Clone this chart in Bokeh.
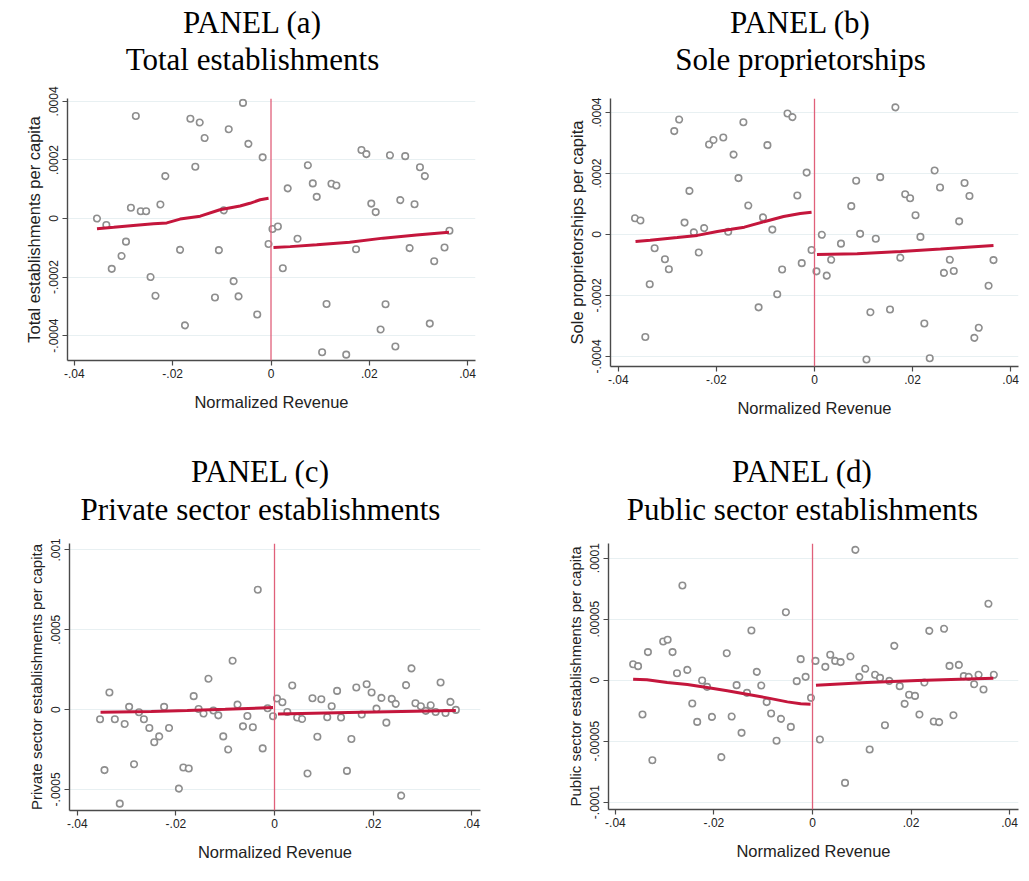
from bokeh.plotting import figure
from bokeh.models import Range1d, FixedTicker, Span
from bokeh.layouts import column, row
from bokeh.core.properties import value
from bokeh.embed import file_html
from bokeh.resources import INLINE
import numpy as np

X_TICKS = [-0.04, -0.02, 0, 0.02, 0.04]
X_LABELS = ["-.04", "-.02", "0", ".02", ".04"]
X_TITLE = "Normalized Revenue"

# ---------------- Panel (a): Total establishments (y in 1e-4) ----------------
a_title = ["PANEL (a)", "Total establishments"]
a_ytitle = "Total establishments per capita"
a_x = [-0.0354, -0.0335, -0.0324, -0.0304, -0.0295, -0.0285, -0.0275, -0.0265, -0.0254, -0.0245,
       -0.0235, -0.0225, -0.0215, -0.0185, -0.0175, -0.0164, -0.0154, -0.0145, -0.0135, -0.0114,
       -0.0106, -0.0096, -0.0086, -0.0076, -0.0066, -0.0057, -0.0046, -0.0028, -0.0017, -0.0005,
       0.0003, 0.0014, 0.0024, 0.0034, 0.0054, 0.0075, 0.0085, 0.0093, 0.0104, 0.0113,
       0.0123, 0.0133, 0.0153, 0.0173, 0.0184, 0.0194, 0.0204, 0.0213, 0.0223, 0.0233,
       0.0242, 0.0253, 0.0263, 0.0273, 0.0282, 0.0292, 0.0303, 0.0313, 0.0323, 0.0332,
       0.0353, 0.0363]
a_y = [0.0, -0.22, -1.72, -1.28, -0.79, 0.37, 3.50, 0.25, 0.25, -2.0,
       -2.64, 0.48, 1.45, -1.07, -3.65, 3.41, 1.77, 3.28, 2.75, -2.70,
       -1.08, 0.28, 3.05, -2.14, -2.66, 3.95, 2.55, -3.28, 2.09, -0.87,
       -0.36, -0.27, -1.70, 1.03, -0.69, 1.82, 1.20, 0.74, -4.57, -2.92,
       1.19, 1.13, -4.65, -1.05, 2.34, 2.20, 0.51, 0.22, -3.79, -2.93,
       2.16, -4.37, 0.63, 2.13, -1.01, 0.49, 1.75, 1.45, -3.59, -1.46,
       -0.99, -0.42]
a_fitL_x = [-0.0354, -0.032, -0.028, -0.0239, -0.0212, -0.0185, -0.0144, -0.0104, -0.0063, -0.0043, -0.0022, -0.0005]
a_fitL_y = [-0.35, -0.30, -0.24, -0.18, -0.15, -0.02, 0.08, 0.30, 0.43, 0.52, 0.64, 0.69]
a_fitR_x = [0.0005, 0.0039, 0.0093, 0.016, 0.0228, 0.0296, 0.0362]
a_fitR_y = [-0.99, -0.96, -0.90, -0.81, -0.67, -0.56, -0.47]
a_yticks = [-0.0004, -0.0002, 0, 0.0002, 0.0004]
a_ylabels = ["-.0004", "-.0002", "0", ".0002", ".0004"]

# ---------------- Panel (b): Sole proprietorships (y in 1e-4) ----------------
b_title = ["PANEL (b)", "Sole proprietorships"]
b_ytitle = "Sole proprietorships per capita"
b_x = [-0.0366, -0.0355, -0.0345, -0.0336, -0.0326, -0.0305, -0.0297, -0.0286, -0.0276, -0.0265,
       -0.0255, -0.0246, -0.0236, -0.0225, -0.0215, -0.0206, -0.0186, -0.0176, -0.0165, -0.0155,
       -0.0145, -0.0135, -0.0114, -0.0105, -0.0096, -0.0086, -0.0076, -0.0066, -0.0055, -0.0045,
       -0.0035, -0.0026, -0.0016, -0.0006,
       0.0004, 0.0015, 0.0025, 0.0034, 0.0054, 0.0075, 0.0085, 0.0093, 0.0106, 0.0114,
       0.0125, 0.0134, 0.0154, 0.0165, 0.0175, 0.0185, 0.0195, 0.0206, 0.0216, 0.0224,
       0.0235, 0.0245, 0.0256, 0.0264, 0.0276, 0.0284, 0.0295, 0.0306, 0.0316, 0.0326,
       0.0335, 0.0355, 0.0365]
b_y = [0.53, 0.46, -3.36, -1.63, -0.45, -0.81, -1.14, 3.39, 3.77, 0.39,
       1.43, 0.07, -0.59, 0.21, 2.95, 3.10, 3.18, 0.09, 2.62, 1.85,
       3.68, 0.95, -2.39, 0.56, 2.93, 0.16, -1.96, -1.15, 3.97, 3.85,
       1.28, -0.94, 2.03, -0.51,
       -1.21, -0.01, -1.35, -0.83, -0.30, 0.93, 1.76, 0.02, -4.10, -2.55,
       -0.14, 1.88, -2.46, 4.17, -0.76, 1.32, 1.19, 0.63, -0.08, -2.92,
       -4.06, 2.10, 1.54, -1.26, -0.83, -1.20, 0.43, 1.69, 1.26, -3.39,
       -3.06, -1.68, -0.84]
b_fitL_x = [-0.0365, -0.0335, -0.028, -0.0239, -0.0198, -0.017, -0.0143, -0.0103, -0.0063, -0.0029, -0.0006]
b_fitL_y = [-0.23, -0.19, -0.10, -0.03, 0.10, 0.17, 0.24, 0.42, 0.59, 0.69, 0.73]
b_fitR_x = [0.0005, 0.0087, 0.0176, 0.0257, 0.0365]
b_fitR_y = [-0.66, -0.63, -0.56, -0.48, -0.36]
b_yticks = [-0.0004, -0.0002, 0, 0.0002, 0.0004]
b_ylabels = ["-.0004", "-.0002", "0", ".0002", ".0004"]

# ---------------- Panel (c): Private sector (y in 1e-4) ----------------
c_title = ["PANEL (c)", "Private sector establishments"]
c_ytitle = "Private sector establishments per capita"
c_x = [-0.0354, -0.0345, -0.0335, -0.0324, -0.0314, -0.0304, -0.0295, -0.0285, -0.0275, -0.0265,
       -0.0254, -0.0244, -0.0234, -0.0224, -0.0214, -0.0194, -0.0185, -0.0174, -0.0164, -0.0154,
       -0.0144, -0.0134, -0.0124, -0.0114, -0.0104, -0.0094, -0.0085, -0.0075, -0.0064, -0.0055,
       -0.0044, -0.0034, -0.0024, -0.0014, -0.0003,
       0.0005, 0.0016, 0.0026, 0.0036, 0.0046, 0.0056, 0.0067, 0.0077, 0.0087, 0.0095,
       0.0107, 0.0116, 0.0127, 0.0135, 0.0147, 0.0156, 0.0166, 0.0177, 0.0187, 0.0197,
       0.0207, 0.0217, 0.0227, 0.0238, 0.0246, 0.0257, 0.0267, 0.0278, 0.0286, 0.0297,
       0.0307, 0.0317, 0.0327, 0.0337, 0.0347, 0.0357, 0.0368]
c_y = [-0.61, -3.79, 1.07, -0.61, -5.89, -0.90, 0.17, -3.42, -0.17, -0.61,
       -1.15, -2.05, -1.68, 0.17, -1.15, -4.95, -3.63, -3.69, 0.84, 0.04,
       -0.25, 1.93, -0.06, -0.36, -1.68, -2.50, 3.06, 0.31, -1.05, -0.40,
       -1.11, 7.50, -2.43, 0.08, -0.42,
       0.69, 0.46, -0.15, 1.51, -0.50, -0.59, -4.00, 0.71, -1.70, 0.65,
       -0.48, 0.21, 1.17, -0.50, -3.84, -1.84, 1.38, -0.31, 1.59, 1.07,
       0.06, 0.73, -0.82, 0.67, 0.36, -5.39, 1.53, 2.58, 0.40, 0.21,
       -0.08, 0.27, -0.15, 1.70, -0.21, 0.48, -0.02]
c_fitL_x = [-0.0353, -0.025, -0.0177, -0.01, -0.0003]
c_fitL_y = [-0.17, -0.12, -0.06, 0.02, 0.13]
c_fitR_x = [0.0007, 0.0175, 0.0368]
c_fitR_y = [-0.27, -0.17, -0.06]
c_yticks = [-0.0005, 0, 0.0005, 0.001]
c_ylabels = ["-.0005", "0", ".0005", ".001"]

# ---------------- Panel (d): Public sector (y in 1e-5) ----------------
d_title = ["PANEL (d)", "Public sector establishments"]
d_ytitle = "Public sector establishments per capita"
d_x = [-0.0364, -0.0354, -0.0345, -0.0334, -0.0325, -0.0303, -0.0294, -0.0284, -0.0275, -0.0264,
       -0.0254, -0.0244, -0.0234, -0.0224, -0.0214, -0.0204, -0.0185, -0.0174, -0.0164, -0.0154,
       -0.0144, -0.0133, -0.0124, -0.0113, -0.0104, -0.0093, -0.0084, -0.0073, -0.0064, -0.0054,
       -0.0044, -0.0032, -0.0024, -0.0014, -0.0003,
       0.0006, 0.0015, 0.0026, 0.0036, 0.0046, 0.0057, 0.0066, 0.0077, 0.0087, 0.0095,
       0.0107, 0.0116, 0.0127, 0.0137, 0.0147, 0.0156, 0.0166, 0.0177, 0.0187, 0.0196,
       0.0208, 0.0217, 0.0227, 0.0237, 0.0246, 0.0257, 0.0267, 0.0278, 0.0286, 0.0297,
       0.0307, 0.0317, 0.0328, 0.0337, 0.0347, 0.0357, 0.0368]
d_y = [1.31, 1.15, -2.81, 2.30, -6.56, 3.17, 3.31, 2.30, 0.57, 7.76,
       0.84, -1.91, -3.42, -0.03, -0.55, -3.01, -6.31, 2.21, -2.98, -0.41,
       -4.32, -1.04, 4.07, 0.68, -0.44, -1.80, -2.73, -4.97, -3.17, 5.57,
       -3.83, -0.08, 1.72, 0.27, -1.45,
       1.58, -4.86, 1.09, 2.08, 1.58, 1.48, -8.42, 1.94, 10.68, 0.27,
       0.93, -5.68, 0.44, 0.19, -3.69, -0.06, 2.81, -0.49, -1.94, -1.20,
       -1.29, -2.81, -0.19, 4.04, -3.39, -3.44, 4.21, 1.17, -2.87, 1.25,
       0.33, 0.27, -0.33, 0.44, -0.77, 6.26, 0.44]
d_fitL_x = [-0.0364, -0.0336, -0.0295, -0.0254, -0.0214, -0.0173, -0.0133, -0.0092, -0.0051, -0.0024, -0.0004]
d_fitL_y = [0.08, 0.03, -0.19, -0.36, -0.60, -0.87, -1.15, -1.45, -1.78, -1.94, -1.97]
d_fitR_x = [0.0007, 0.0111, 0.0213, 0.0367]
d_fitR_y = [-0.41, -0.19, -0.03, 0.16]
d_yticks = [-0.0001, -0.00005, 0, 0.00005, 0.0001]
d_ylabels = ["-.0001", "-.00005", "0", ".00005", ".0001"]

MARKER_COLOR = "#8e8e8e"
FIT_COLOR = "#c4163c"
XLINE_COLOR = "#e0607a"
GRID_COLOR = "#e8f0f2"
AXIS_COLOR = "#4a4a4a"
TEXT_COLOR = "#222222"

PAGE_W = 1021
STRIP1_H = 80  # height of the title strip above row 1 (px)
STRIP2_H = 88  # height of the title strip above row 2 (px)


def title_strip(h, left_lines, right_lines, centers, ys):
    """Full-width strip holding two panels' two-line serif titles; ranges are in pixels."""
    t = figure(output_backend="svg", toolbar_location=None, title=None,
               width=PAGE_W, height=h, min_border=0,
               x_range=Range1d(0, PAGE_W), y_range=Range1d(h, 0),
               x_axis_location=None, y_axis_location=None)
    t.outline_line_color = None
    t.xgrid.visible = False
    t.ygrid.visible = False
    xs = [centers[0], centers[0], centers[1], centers[1]]
    t.text(x=xs, y=ys + ys, text=left_lines + right_lines,
           text_align="center", text_baseline="middle",
           text_font=value("Liberation Serif"), text_font_size="31px", text_color="black")
    return t


def make_panel(ylab, x, y, scale, fLx, fLy, fRx, fRy, yticks, ylabels,
               xr, yr, lb, fw, rb, tb, fh, bb, ylab_size):
    p = figure(output_backend="svg", toolbar_location=None, title=None,
               frame_width=fw, frame_height=fh,
               min_border_left=lb, min_border_right=rb,
               min_border_top=tb, min_border_bottom=bb,
               x_range=Range1d(*xr), y_range=Range1d(*yr))
    p.outline_line_color = None
    p.background_fill_color = "white"
    p.border_fill_color = "white"

    for ax in (p.xaxis[0], p.yaxis[0]):
        ax.axis_line_color = AXIS_COLOR
        ax.axis_line_width = 1.4
        ax.major_tick_line_color = AXIS_COLOR
        ax.major_tick_line_width = 1.2
        ax.major_tick_out = 5
        ax.major_tick_in = 0
        ax.minor_tick_line_color = None
        ax.major_label_text_font = "Liberation Sans"
        ax.major_label_text_font_size = "12px"
        ax.major_label_text_color = TEXT_COLOR
        ax.axis_label_text_font = "Liberation Sans"
        ax.axis_label_text_font_style = "normal"
        ax.axis_label_text_color = TEXT_COLOR

    p.xaxis.ticker = FixedTicker(ticks=X_TICKS)
    p.xaxis.major_label_overrides = dict(zip(X_TICKS, X_LABELS))
    p.xaxis.axis_label = X_TITLE
    p.xaxis.axis_label_text_font_size = "16.5px"
    p.xaxis.major_label_standoff = 3
    p.xaxis.axis_label_standoff = 12

    p.yaxis.ticker = FixedTicker(ticks=yticks)
    p.yaxis.major_label_overrides = dict(zip(yticks, ylabels))
    p.yaxis.major_label_orientation = "vertical"
    p.yaxis.axis_label = ylab
    p.yaxis.axis_label_text_font_size = ylab_size
    p.yaxis.major_label_standoff = 4
    p.yaxis.axis_label_standoff = 4

    p.xgrid.grid_line_color = None
    p.ygrid.grid_line_color = GRID_COLOR
    p.ygrid.grid_line_width = 1.2

    ys = np.array(y) * scale
    p.scatter(x, ys, marker="circle", size=6.5, line_color=MARKER_COLOR,
              line_width=1.6, fill_color="white")
    p.add_layout(Span(location=0, dimension="height", line_color=XLINE_COLOR,
                      line_width=1.3))
    p.line(fLx, np.array(fLy) * scale, line_color=FIT_COLOR, line_width=3)
    p.line(fRx, np.array(fRy) * scale, line_color=FIT_COLOR, line_width=3)
    return p


ROW2_Y = 440
strip1 = title_strip(STRIP1_H, a_title, b_title, [252, 800], [22, 59])
strip2 = title_strip(STRIP2_H, c_title, d_title, [260, 802], [471 - ROW2_Y, 509 - ROW2_Y])

# frames in one row share their top edge, so panel (a) starts at the same top as (b)
pa = make_panel(a_ytitle, a_x, a_y, 1e-4, a_fitL_x, a_fitL_y, a_fitR_x, a_fitR_y, a_yticks, a_ylabels,
                (-0.0414, 0.0416), (-0.000485, 0.000410),
                67, 408, 40, 98 - STRIP1_H, 262, 80, "16.5px")
pb = make_panel(b_ytitle, b_x, b_y, 1e-4, b_fitL_x, b_fitL_y, b_fitR_x, b_fitR_y, b_yticks, b_ylabels,
                (-0.0416, 0.0416), (-0.000433, 0.000446),
                95, 408, 3, 98 - STRIP1_H, 268, 74, "16.5px")
pc = make_panel(c_ytitle, c_x, c_y, 1e-4, c_fitL_x, c_fitL_y, c_fitR_x, c_fitR_y, c_yticks, c_ylabels,
                (-0.0416, 0.0418), (-0.000632, 0.00104),
                69, 411, 35, 543 - ROW2_Y - STRIP2_H, 267, 66, "15px")
pd_ = make_panel(d_ytitle, d_x, d_y, 1e-5, d_fitL_x, d_fitL_y, d_fitR_x, d_fitR_y, d_yticks, d_ylabels,
                 (-0.0414, 0.0418), (-0.000106, 0.000112),
                 93, 410, 3, 543 - ROW2_Y - STRIP2_H, 266, 67, "15px")

layout = column(strip1, row(pa, pb), strip2, row(pc, pd_))
open("out.html", "w").write(file_html(layout, INLINE))
